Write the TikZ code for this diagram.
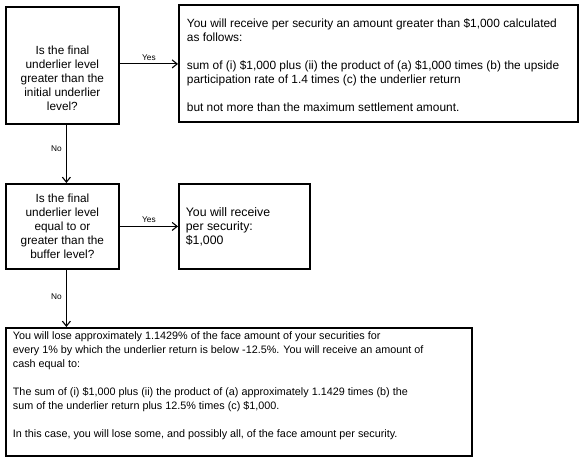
\documentclass[tikz,border=0pt]{standalone}
\usepackage{fontspec}
\setmainfont{Liberation Sans}
\usetikzlibrary{arrows.meta,positioning}
\begin{document}
\begin{tikzpicture}[x=1pt,y=-1pt,
  box/.style={draw, line width=1.8pt, inner sep=0pt, anchor=north west},
  conn/.style={line width=1.1pt, -{Straight Barb[length=5pt,width=8pt,line width=1.1pt]}},
  lbl/.style={font=\fontsize{8.3}{9}\selectfont, inner sep=1pt}]
\useasboundingbox (0,0) rectangle (581,466);
\fill[white] (0,0) rectangle (581,466);
% decision 1
\node[box, font=\fontsize{11.8}{14}\selectfont] (d1) at (5,6)
  {\parbox[c][117pt][c]{113pt}{\centering\vspace*{25pt}
   Is the final\\underlier level\\greater than the\\initial underlier\\level?}};
% result 1
\node[box, font=\fontsize{11.9}{14}\selectfont] (r1) at (178,4)
  {\parbox[c][117pt][c]{399pt}{\leftskip=8pt\vspace*{3pt}
   You will receive per security an amount greater than \$1,000 calculated\\
   as follows:\\[14pt]
   sum of (i) \$1,000 plus (ii) the product of (a) \$1,000 times (b) the upside\\
   participation rate of 1.4 times (c) the underlier return\\[14pt]
   but not more than the maximum settlement amount.}};
% decision 2
\node[box, font=\fontsize{11.8}{14}\selectfont] (d2) at (5,183)
  {\parbox[c][85pt][c]{113pt}{\centering
   Is the final\\underlier level\\equal to or\\greater than the\\buffer level?}};
% result 2
\node[box, font=\fontsize{12.3}{14}\selectfont] (r2) at (178,183)
  {\parbox[c][85pt][c]{131pt}{\leftskip=7pt
   You will receive\\per security:\\\$1,000}};
% result 3
\node[box, font=\fontsize{10.8}{14}\selectfont] (r3) at (5,327)
  {\parbox[c][128pt][t]{466pt}{\leftskip=7pt\vspace*{4pt}
   You will lose approximately 1.1429\% of the face amount of your securities for\\
   every 1\% by which the underlier return is below -12.5\%. You will receive an amount of\\
   cash equal to:\\[14pt]
   The sum of (i) \$1,000 plus (ii) the product of (a) approximately 1.1429 times (b) the\\
   sum of the underlier return plus 12.5\% times (c) \$1,000.\\[14pt]
   In this case, you will lose some, and possibly all, of the face amount per security.}};
% connectors
\draw[conn] ([yshift=1.5pt]d1.east) -- ([yshift=1.5pt]d1.east -| r1.west) node[lbl, midway, above=2pt] {Yes};
\draw[conn] ([xshift=4pt]d1.south) -- ([xshift=4pt]d1.south |- d2.north) node[lbl, midway, left=3pt, yshift=5pt] {No};
\draw[conn] (d2.east) -- (d2.east -| r2.west) node[lbl, midway, above=2pt] {Yes};
\draw[conn] ([xshift=4pt]d2.south) -- ([xshift=4pt]d2.south |- r3.north) node[lbl, midway, left=3pt, yshift=2pt] {No};
\end{tikzpicture}
\end{document}
